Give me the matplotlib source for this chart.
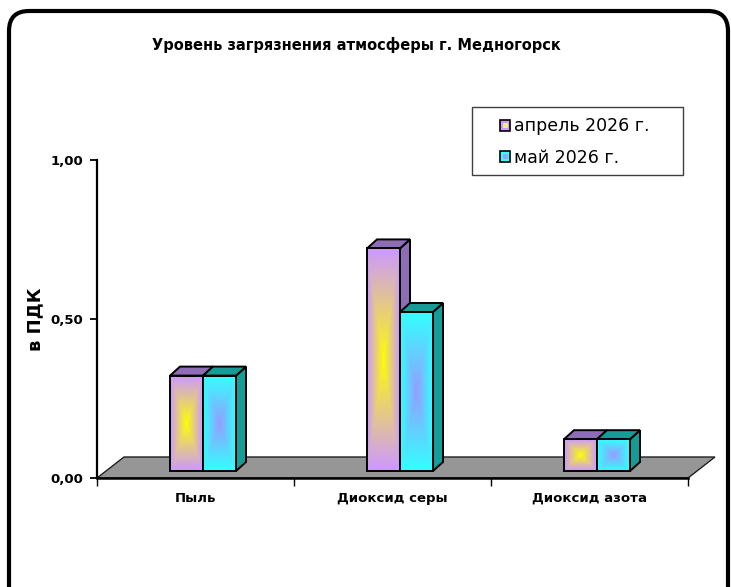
import numpy as np
import matplotlib
matplotlib.use("Agg")
import matplotlib.pyplot as plt
from matplotlib.patches import Rectangle, Polygon, FancyBboxPatch
from matplotlib.legend_handler import HandlerBase
from matplotlib.transforms import IdentityTransform

# ---- data ----
categories = ["Пыль", "Диоксид серы", "Диоксид азота"]
series_names = ["апрель 2026 г.", "май 2026 г."]
april = [0.30, 0.70, 0.10]
may = [0.30, 0.50, 0.10]
yticks = [0.0, 0.5, 1.0]
ytick_labels = ["0,00", "0,50", "1,00"]
title = "Уровень загрязнения атмосферы г. Медногорск"
ylabel = "в ПДК"

# ---- styling ----
front_edge = ["#CC99FF", "#33FFFF"]
front_center = ["#FFFF00", "#9999FF"]
shade = ["#8E6CB6", "#169C97"]
floor_color = "#969696"

W, H, DPI = 731, 587, 100
fig = plt.figure(figsize=(W / DPI, H / DPI), dpi=DPI)
fig.patch.set_facecolor("white")

# plot area in pixels (from left / bottom)
x0, x1 = 97, 688
y0, y1 = 587 - 478, 587 - 160
ax = fig.add_axes([x0 / W, y0 / H, (x1 - x0) / W, (y1 - y0) / H])
ax.set_xlim(-0.5, len(categories) - 0.5)
ax.set_ylim(0, 1.0)
ax.patch.set_alpha(0)

px_x = (len(categories)) / (x1 - x0)   # data units per pixel, x
px_y = 1.0 / (y1 - y0)                 # data units per pixel, y

# depth of the floor, placement of bars inside it, bar thickness
floor_dx, floor_dy = 27 * px_x, 21 * px_y
bar_off_x, bar_off_y = 7.5 * px_x, 7 * px_y
bar_dx, bar_dy = 10 * px_x, 9 * px_y
bar_w = 33 * px_x

for s in ["top", "right"]:
    ax.spines[s].set_visible(False)
ax.spines["left"].set_linewidth(1.6)
ax.spines["bottom"].set_linewidth(1.8)
ax.spines["left"].set_zorder(6)
ax.spines["bottom"].set_zorder(6)

# floor
xl, xr = -0.5, len(categories) - 0.5
floor = Polygon([(xl, 0), (xr, 0), (xr + floor_dx, floor_dy), (xl + floor_dx, floor_dy)],
                closed=True, facecolor=floor_color, edgecolor="#202020", lw=1.0,
                clip_on=False, zorder=1)
ax.add_patch(floor)


def gradient_face(ax, xa, xb, ya, yb, c_edge, c_center, z):
    n = 120
    u = np.linspace(-1, 1, n)
    v = np.linspace(-1, 1, n)
    U, V = np.meshgrid(u, v)
    t = np.maximum(np.abs(U), np.abs(V))
    t = np.clip(t, 0, 1) ** 0.9
    ce = np.array(matplotlib.colors.to_rgb(c_edge))
    cc = np.array(matplotlib.colors.to_rgb(c_center))
    img = cc[None, None, :] * (1 - t[..., None]) + ce[None, None, :] * t[..., None]
    rect = Rectangle((xa, ya), xb - xa, yb - ya, facecolor="none", edgecolor="black",
                     lw=1.4, zorder=z + 0.2, clip_on=False)
    im = ax.imshow(img, extent=(xa, xb, ya, yb), aspect="auto", interpolation="bilinear",
                   zorder=z, origin="lower")
    rect_clip = Rectangle((xa, ya), xb - xa, yb - ya, transform=ax.transData)
    im.set_clip_path(rect_clip)
    ax.add_patch(rect)


def draw_bar(ax, xa, val, si, z):
    xb = xa + bar_w
    ya = bar_off_y
    yb = bar_off_y + val
    side = Polygon([(xb, ya), (xb + bar_dx, ya + bar_dy), (xb + bar_dx, yb + bar_dy), (xb, yb)],
                   closed=True, facecolor=shade[si], edgecolor="black", lw=1.4, zorder=z,
                   clip_on=False)
    top = Polygon([(xa, yb), (xb, yb), (xb + bar_dx, yb + bar_dy), (xa + bar_dx, yb + bar_dy)],
                  closed=True, facecolor=shade[si], edgecolor="black", lw=1.4, zorder=z,
                  clip_on=False)
    ax.add_patch(side)
    ax.add_patch(top)
    gradient_face(ax, xa, xb, ya, yb, front_edge[si], front_center[si], z + 0.5)


for i, cat in enumerate(categories):
    center = i + bar_off_x
    draw_bar(ax, center - bar_w, april[i], 0, 2 + 2 * i)
    draw_bar(ax, center, may[i], 1, 3 + 2 * i)

ax.set_xlim(-0.5, len(categories) - 0.5)
ax.set_ylim(0, 1.0)

# axes ticks
ax.set_yticks(yticks)
ax.set_yticklabels(ytick_labels, fontsize=9.5, fontweight="bold", family="DejaVu Sans")
ax.tick_params(axis="y", direction="out", length=5, width=1.3, pad=5)
ax.set_xticks(np.arange(len(categories) + 1) - 0.5)
ax.set_xticklabels([])
ax.set_xticks(np.arange(len(categories)), minor=True)
ax.set_xticklabels(categories, minor=True, fontsize=9.5, fontweight="bold", family="DejaVu Sans")
ax.tick_params(axis="x", which="major", direction="out", length=6, width=1.0)
ax.tick_params(axis="x", which="minor", length=0, pad=10)

ax.set_ylabel(ylabel, fontsize=13, fontweight="bold", family="DejaVu Sans", labelpad=4)

fig.text(356 / W, 1 - 45 / H, title, ha="center", va="center", fontsize=10.5,
         fontweight="bold", family="DejaVu Sans")


# legend with small two-tone square keys
class KeyHandler(HandlerBase):
    def __init__(self, c_edge, c_center):
        super().__init__()
        self.c_edge = c_edge
        self.c_center = c_center

    def create_artists(self, legend, orig_handle, xdescent, ydescent, width, height,
                       fontsize, trans):
        s = min(width, height)
        xa = -xdescent + (width - s) / 2
        ya = -ydescent + (height - s) / 2
        outer = Rectangle((xa, ya), s, s, facecolor=self.c_edge, edgecolor="black",
                          lw=1.2, transform=trans)
        k = s * 0.45
        inner = Rectangle((xa + (s - k) / 2, ya + (s - k) / 2), k, k,
                          facecolor=self.c_center, edgecolor="none", transform=trans)
        return [outer, inner]


h_april = Rectangle((0, 0), 1, 1)
h_may = Rectangle((0, 0), 1, 1)
leg = fig.legend([h_april, h_may], series_names,
                 handler_map={h_april: KeyHandler(front_edge[0], "#EEEE88"),
                              h_may: KeyHandler(front_edge[1], "#8FA8FF")},
                 loc="center left", bbox_to_anchor=(500 / W, 1 - 142 / H),
                 prop={"family": "DejaVu Sans", "size": 12.5},
                 frameon=False, borderpad=0, handlelength=0.6, handleheight=0.6,
                 handletextpad=0.2, labelspacing=0.75, borderaxespad=0)

# legend frame
leg_frame = Rectangle((472, H - 175), 683 - 472, 175 - 107, transform=IdentityTransform(),
                      facecolor="white", edgecolor="#404040", lw=1.0, zorder=0.5)
fig.patches.append(leg_frame)

# rounded outer border
border = FancyBboxPatch((9, -20), 719, 587 - 11 + 20, boxstyle="round,pad=0,rounding_size=20",
                        transform=IdentityTransform(), facecolor="none", edgecolor="black",
                        lw=3, zorder=10)
fig.patches.append(border)

fig.savefig("out.png", dpi=DPI)
